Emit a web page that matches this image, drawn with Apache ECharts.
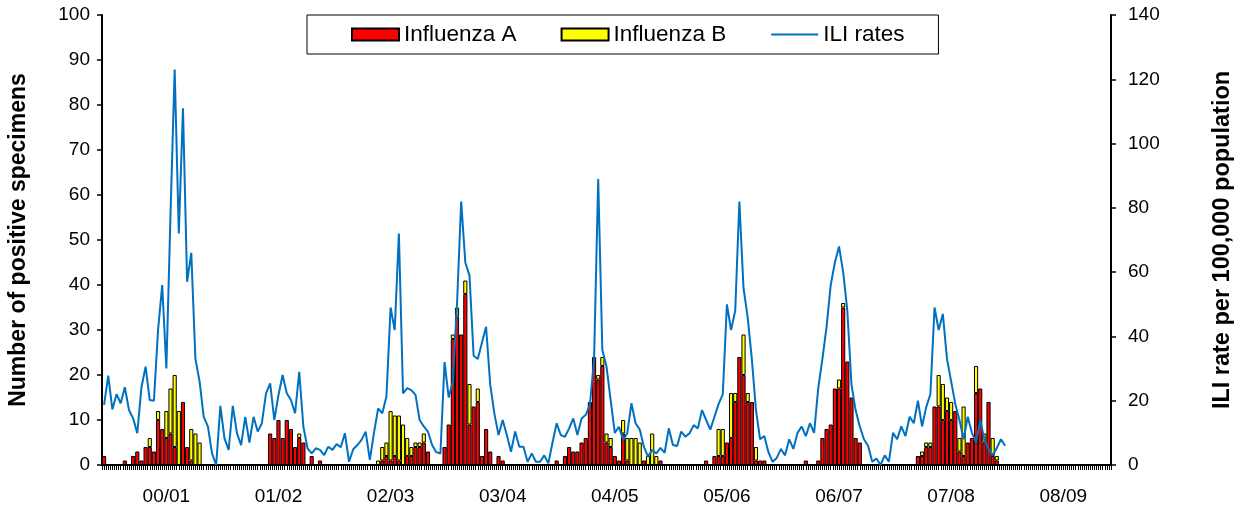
<!DOCTYPE html>
<html>
<head>
<meta charset="utf-8">
<title>Influenza surveillance</title>
<script src="https://cdn.jsdelivr.net/npm/echarts@6/dist/echarts.min.js"></script>
<style>
  html, body { margin: 0; padding: 0; background: #fff; }
  #chart { width: 1240px; height: 514px; }
</style>
</head>
<body>
<div id="chart"></div>
<script>
// season labels (27 weekly slots each on the category axis)
const seasons = ['00/01', '01/02', '02/03', '03/04', '04/05', '05/06', '06/07', '07/08', '08/09']
const WEEKS_PER_SEASON = 27
const LABEL_SLOT = 15

// number of positive specimens, one row per season
const fluA = [
  [2,0,0,0,0,1,0,2,3,1,4,4,3,10,8,6,7,4,0,14,4,1,0,0,0,0,0],
  [0,0,0,0,0,0,0,0,0,0,0,0,0,7,6,10,6,10,8,4,6,5,0,2,0,1,0],
  [0,0,0,0,0,0,0,0,0,0,0,0,0,1,2,1,2,1,0,2,2,4,4,5,3,0,0],
  [0,4,9,28,33,29,38,9,13,14,2,8,3,0,2,1,0,0,0,0,0,0,0,0,0,0,0],
  [0,1,0,2,4,3,3,5,6,14,24,19,22,5,4,2,1,7,1,0,0,0,1,0,0,0,1],
  [0,0,0,0,0,0,0,0,0,0,1,0,2,2,2,5,6,14,24,20,14,14,1,1,1,0,0],
  [0,0,0,0,0,0,0,1,0,0,1,6,8,9,17,17,35,23,15,6,5,0,0,0,0,0,0],
  [0,0,0,0,0,0,0,2,2,4,4,13,13,10,12,10,12,3,2,5,6,16,17,5,14,2,1],
  [0,0,0,0,0,0,0,0,0,0,0,0,0,0,0,0,0,0,0,0,0,0,0,0,0,0,0]
]
const fluB = [
  [0,0,0,0,0,0,0,0,0,0,0,2,0,2,0,6,10,16,12,0,0,7,7,5,0,0,0],
  [0,0,0,0,0,0,0,0,0,0,0,0,0,0,0,0,0,0,0,0,1,0,0,0,0,0,0],
  [0,0,0,0,0,0,0,0,0,0,0,0,1,3,3,11,9,10,9,4,2,1,1,2,0,0,0],
  [0,0,0,1,2,0,3,9,0,3,0,0,0,0,0,0,0,0,0,0,0,0,0,0,0,0,0],
  [0,0,0,0,0,0,0,0,0,0,0,1,2,2,2,0,0,3,5,6,6,5,0,2,7,2,0],
  [0,0,0,0,0,0,0,0,0,0,0,0,0,6,6,0,10,2,0,9,2,0,3,0,0,0,0],
  [0,0,0,0,0,0,0,0,0,0,0,0,0,0,0,2,1,0,0,0,0,0,0,0,0,0,0],
  [0,0,0,0,0,0,0,0,1,1,1,0,7,8,3,4,0,3,11,0,0,6,0,2,0,4,1],
  [0,0,0,0,0,0,0,0,0,0,0,0,0,0,0,0,0,0,0,0,0,0,0,0,0,0,0]
]
// ILI rate per 100,000 population
const iliRates = [
  [18.7,27.8,17.3,22,19.2,24.2,17.1,14.5,9.9,24.2,30.6,20.2,20,42,56,30,78,123,72,111,57,66,33,26,15,12,3.6],
  [0,18.4,8.3,4.7,18.4,9.9,6.2,15,7,15,10.4,13,22.3,25.4,14,21.8,28,22.3,20.2,16.1,29,11.9,5.2,3.6,5.2,4.7,3.1],
  [5.7,4.7,6.5,5.5,9.9,1,4.9,6.2,7.8,10.4,1.6,10,17.6,16.1,21.3,49,42,72,22.3,23.9,23.3,21.8,14,12,10.4,6.2,4],
  [3.6,32,21,26,50,82,63,59,34,33,38,43,25,16,9.3,14,9.3,4.1,10.4,5.7,5.7,1,3.6,1,1,3,0.5],
  [7,13,9.3,8.8,11.4,14.5,9.3,14.5,15.6,18.7,32.7,89,35.8,30.6,20.2,10,11.9,7.8,9.9,19.2,13,11.1,5.7,2.6,4.7,3.6,5.3],
  [3.8,11.4,6.2,5.9,10.4,8.8,9.9,12.4,11.4,17.1,14,11,15,19,22,50,42,48,82,55,46,33,17,8,9,4,1],
  [2.2,5,3,8,5,10,12,9,13,10,24,33,43,56,63,68,60,48,25,17,12,8,6,1,2,0,3],
  [1,10,8,12,9,15,13,20,12,18,22,49,42,47,33,26,19,14,8,15,10,7,14,8,5,3,5.3],
  [8,6]
]

const FONT = '"Liberation Sans", Arial, sans-serif'

const weeks = []
seasons.forEach(s => {
  for (let w = 1; w <= WEEKS_PER_SEASON; w++) weeks.push(s + ' w' + w)
})
// finer slots, only used to draw the dense tick marks
const tickSlots = []
for (let i = 0; i < weeks.length * 2; i++) tickSlots.push('t' + i)

const aData = [].concat(...fluA)
const bData = [].concat(...fluB).map(v => (v ? v : null)) // no empty box on top
const iliData = [].concat(...iliRates)

const myChart = echarts.init(document.getElementById('chart'))
myChart.setOption({
  animation: false,
  textStyle: { fontFamily: FONT },
  grid: { left: 102, right: 129, top: 15, bottom: 49, containLabel: false, outerBoundsMode: 'none' },
  legend: {
    left: 307,
    top: 15,
    padding: [8, 34, 8, 44],
    borderColor: '#000',
    borderWidth: 1,
    itemWidth: 47,
    itemHeight: 12,
    itemGap: 44,
    textStyle: { fontSize: 22.5, color: '#000', fontFamily: FONT, lineHeight: 20 },
    data: [
      { name: 'Influenza A', icon: 'rect' },
      { name: 'Influenza B', icon: 'rect' },
      // line only, hide the marker drawn in the middle of the legend line
      { name: 'ILI rates', itemStyle: { color: 'transparent', borderWidth: 0 } }
    ]
  },
  xAxis: [
    {
      type: 'category',
      data: weeks,
      axisLine: { lineStyle: { color: '#000', width: 2 } },
      axisTick: { show: false },
      axisLabel: {
        interval: index => index % WEEKS_PER_SEASON === LABEL_SLOT,
        formatter: (value, index) => seasons[Math.floor(index / WEEKS_PER_SEASON)],
        fontSize: 19,
        color: '#000',
        margin: 22
      }
    },
    {
      type: 'category',
      data: tickSlots,
      position: 'bottom',
      axisLine: { show: false },
      axisTick: { show: true, interval: 0, length: 5, lineStyle: { color: '#000', width: 1 } },
      axisLabel: { show: false },
      splitLine: { show: false }
    }
  ],
  yAxis: [
    {
      type: 'value',
      min: 0,
      max: 100,
      interval: 10,
      position: 'left',
      name: 'Number of positive specimens',
      nameLocation: 'middle',
      nameRotate: 90,
      nameGap: 72,
      nameTextStyle: { fontSize: 23, fontWeight: 'bold', color: '#000', fontFamily: FONT },
      axisLine: { show: true, lineStyle: { color: '#000', width: 2 } },
      axisTick: { show: true, length: 5, lineStyle: { color: '#000', width: 1.5 } },
      axisLabel: { fontSize: 19, color: '#000', margin: 12 },
      splitLine: { show: false }
    },
    {
      type: 'value',
      min: 0,
      max: 140,
      interval: 20,
      position: 'right',
      name: 'ILI rate per 100,000 population',
      nameLocation: 'middle',
      nameRotate: 90,
      nameGap: 100,
      nameTextStyle: { fontSize: 23.5, fontWeight: 'bold', color: '#000', fontFamily: FONT },
      axisLine: { show: true, lineStyle: { color: '#000', width: 2 } },
      axisTick: { show: true, length: 5, lineStyle: { color: '#000', width: 1.5 } },
      axisLabel: { fontSize: 19, color: '#000', margin: 17 },
      splitLine: { show: false }
    }
  ],
  series: [
    {
      name: 'Influenza A',
      type: 'bar',
      stack: 'flu',
      barCategoryGap: '0%',
      data: aData,
      itemStyle: { color: '#ff0000', borderColor: '#000', borderWidth: 1 }
    },
    {
      name: 'Influenza B',
      type: 'bar',
      stack: 'flu',
      barCategoryGap: '0%',
      data: bData,
      itemStyle: { color: '#ffff00', borderColor: '#000', borderWidth: 1 }
    },
    {
      name: 'ILI rates',
      type: 'line',
      yAxisIndex: 1,
      data: iliData,
      symbol: 'none',
      lineStyle: { color: '#0070c0', width: 2 },
      itemStyle: { color: '#0070c0' }
    }
  ]
})
</script>
</body>
</html>
